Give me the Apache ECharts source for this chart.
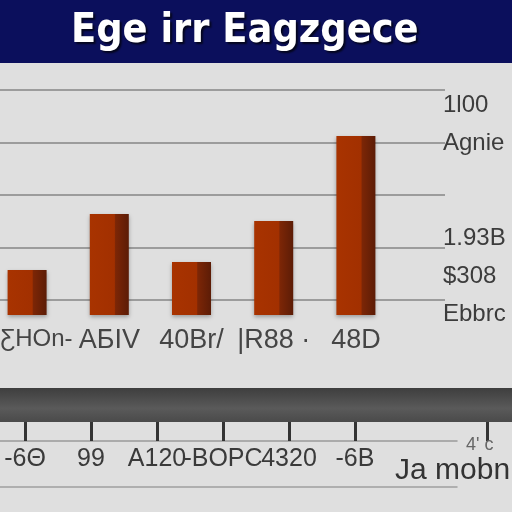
<!DOCTYPE html>
<html>
<head>
<meta charset="utf-8">
<script src="https://cdn.jsdelivr.net/npm/echarts@6/dist/echarts.min.js"></script>
<style>html,body{margin:0;padding:0;background:#dfdfdf}#c{width:512px;height:512px}</style>
</head>
<body>
<div id="c"></div>
<script>
// ---- data ----
var titleText = 'Ege irr Eagzgece';
var barCategories = ['ƸHOn-', 'AБIV', '40Br/', '|R88 ·', '48D'];
var barValues = [45, 101, 53, 94, 179];
var gridSteps = [0, 1, 2, 3, 4];
var rightLabels = ['1l00', '', 'Agnie', '', '', '', '', '1.93B', '', '$308', '', 'Ebbrc'];
var bottomLabels = ['-6Θ', '99', 'A120', '-BOPC', '4320', '-6B', '', ''];
var cornerNotes = ['Ja mobn', "4' c"];

var chart = echarts.init(document.getElementById('c'));
var labelFont = 'Liberation Sans, Arial, sans-serif';

chart.setOption({
  backgroundColor: '#dfdfdf',
  animation: false,
  title: {
    text: titleText,
    left: 66,
    top: 6,
    textStyle: {
      color: '#ffffff', fontSize: 41, fontWeight: 'bold',
      fontFamily: 'DejaVu Sans Condensed, DejaVu Sans, sans-serif',
      textShadowColor: 'rgba(0,0,0,0.7)', textShadowOffsetX: 2, textShadowOffsetY: 2, textShadowBlur: 2
    }
  },
  graphic: [
    { type: 'rect', z: -10, shape: { x: 0, y: 0, width: 512, height: 63 }, style: { fill: '#0b0f5c' } },
    { type: 'rect', z: -10, shape: { x: 0, y: 388, width: 512, height: 34 },
      style: { fill: new echarts.graphic.LinearGradient(0, 0, 0, 1, [
        { offset: 0, color: '#3e3e3e' }, { offset: 0.6, color: '#5a5a5a' }, { offset: 1, color: '#4a4a4a' }]) } },
    { type: 'text', z: 10, style: { text: cornerNotes[0], x: 395, y: 456, fill: '#333', font: '30px Liberation Sans, Arial, sans-serif' } },
    { type: 'text', z: 10, style: { text: cornerNotes[1], x: 466, y: 436, fill: '#666', font: '18px Liberation Sans, Arial, sans-serif' } }
  ],
  grid: [
    { left: -14, right: 115, top: 65, bottom: 197, outerBoundsMode: 'none' },
    { left: 0, right: 67, top: 90, bottom: 212, outerBoundsMode: 'none' },
    { left: 443, right: 0, top: 95.5, height: 228, outerBoundsMode: 'none' },
    { left: 25, right: 25, top: 441, height: 46, outerBoundsMode: 'none' },
    { left: 0, right: 55, top: 441, height: 46, outerBoundsMode: 'none' }
  ],
  xAxis: [
    { gridIndex: 0, type: 'category', data: barCategories,
      axisLine: { show: false }, axisTick: { show: false },
      axisLabel: { interval: 0, margin: 12, color: '#454545', fontSize: 27, fontFamily: labelFont,
        formatter: function (v, i) { return i === 0 ? '{p|' + v + '}' : v; },
        rich: { p: { padding: [0, 0, 0, 19], color: '#454545', fontSize: 24, fontFamily: labelFont } } } },
    { gridIndex: 1, type: 'value', show: false },
    { gridIndex: 2, type: 'value', show: false },
    { gridIndex: 3, type: 'category', position: 'top', boundaryGap: false, data: bottomLabels,
      axisLine: { show: false, onZero: false },
      axisTick: { show: true, inside: false, length: 19, interval: function (i) { return i !== 6; },
        lineStyle: { color: '#333', width: 3 } },
      axisLabel: { inside: true, interval: 0, margin: 6, color: '#3a3a3a', fontSize: 25, fontFamily: labelFont } },
    { gridIndex: 4, type: 'value', position: 'top', min: 0, max: 1,
      axisLine: { show: true, onZero: false, lineStyle: { color: '#9a9a9a', width: 1.5 } },
      axisTick: { show: false }, axisLabel: { show: false }, splitLine: { show: false } },
    { gridIndex: 4, type: 'value', position: 'bottom', min: 0, max: 1,
      axisLine: { show: true, onZero: false, lineStyle: { color: '#a0a0a0', width: 1.5 } },
      axisTick: { show: false }, axisLabel: { show: false }, splitLine: { show: false } }
  ],
  yAxis: [
    { gridIndex: 0, type: 'value', min: 0, max: 250, show: false },
    { gridIndex: 1, type: 'value', min: gridSteps[0], max: gridSteps[gridSteps.length - 1], interval: 1,
      axisLine: { show: false }, axisTick: { show: false }, axisLabel: { show: false },
      splitLine: { show: true, lineStyle: { color: '#9c9c9c', width: 2 } } },
    { gridIndex: 2, type: 'category', inverse: true, data: rightLabels,
      axisLine: { show: false }, axisTick: { show: false }, splitLine: { show: false },
      axisLabel: { inside: true, interval: 0, margin: 0, align: 'left', color: '#3c3c3c', fontSize: 24, fontFamily: labelFont } },
    { gridIndex: 3, type: 'value', show: false },
    { gridIndex: 4, type: 'value', show: false }
  ],
  series: [{
    type: 'bar', xAxisIndex: 0, yAxisIndex: 0, data: barValues, barWidth: 39, z: 5,
    itemStyle: {
      color: new echarts.graphic.LinearGradient(0, 0, 1, 0, [
        { offset: 0, color: '#a83300' }, { offset: 0.63, color: '#a23000' },
        { offset: 0.66, color: '#7c2606' }, { offset: 1, color: '#5c1c06' }]),
      shadowColor: 'rgba(0,0,0,0.3)', shadowBlur: 4, shadowOffsetY: 2
    }
  }]
});
</script>
</body>
</html>
